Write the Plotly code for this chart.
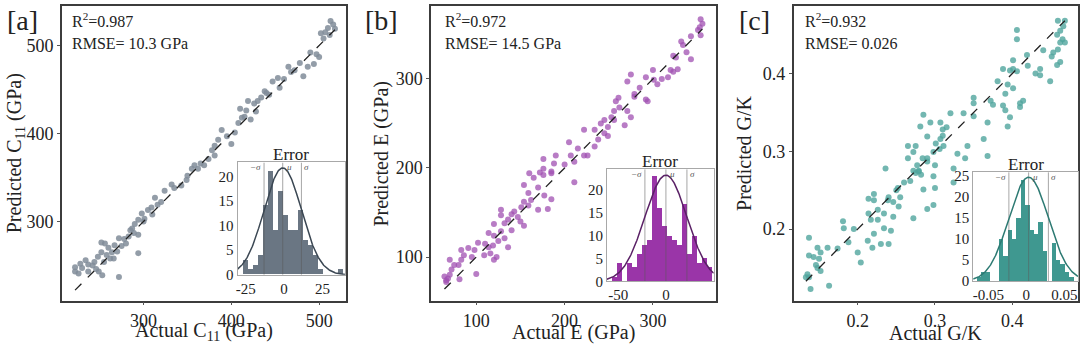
import numpy as np
import plotly.graph_objects as go

FONT = "Liberation Serif"
W, H = 1080, 356

# ---------------- data ----------------
# Panel a : C11 (GPa)
a_actual = [513, 516, 510, 518, 507, 512, 502, 505, 500, 497, 494, 487, 482, 472, 465, 468, 453, 455, 447, 438,
            443, 434, 430, 426, 419, 417, 415, 410, 422, 408, 404, 400, 389, 385, 381, 381, 378, 374, 369, 365,
            358, 355, 362, 343, 332, 324, 313, 316, 309, 305, 298, 301, 294, 290, 289, 287, 294, 283, 278, 272,
            275, 267, 260, 256, 252, 264, 266, 258, 252, 248, 244, 237, 234, 230, 222, 222, 226, 237, 249, 253,
            272, 294, 242, 246, 228, 255, 262, 270, 280, 285, 300, 310, 320, 335, 350, 395, 412, 428, 440, 460,
            478, 490, 349]
a_pred = [528, 524, 520, 519, 515, 512, 514, 508, 487, 490, 479, 476, 465, 472, 476, 470, 463, 452, 459, 448,
          444, 441, 437, 434, 437, 426, 419, 428, 416, 412, 401, 388, 404, 393, 386, 375, 381, 371, 364, 366,
          364, 360, 360, 341, 342, 335, 327, 319, 316, 313, 309, 303, 302, 297, 287, 292, 285, 283, 280, 281,
          272, 273, 270, 275, 276, 265, 258, 262, 265, 260, 254, 251, 256, 247, 248, 243, 241, 243, 243, 239,
          237, 264, 250, 246, 252, 254, 258, 266, 275, 290, 300, 308, 322, 338, 352, 397, 418, 425, 446, 462,
          480, 492, 347]

# Panel b : E (GPa)
b_actual = [354, 356, 353, 351, 354, 343, 332, 334, 323, 326, 343, 338, 328, 320, 323, 317, 301, 305, 292, 292,
            294, 275, 271, 279, 279, 271, 275, 268, 261, 258, 256, 253, 256, 249, 245, 241, 245, 249, 238, 234,
            222, 234, 226, 222, 207, 211, 205, 190, 188, 176, 176, 185, 160, 172, 176, 185, 165, 154, 170, 159,
            177, 185, 162, 154, 159, 170, 181, 151, 143, 147, 154, 136, 128, 132, 120, 128, 114, 120, 125, 119,
            114, 109, 116, 120, 123, 102, 98, 100, 91, 86, 83, 83, 80, 75, 72, 70, 64, 66, 68, 81,
            128, 132, 136, 140, 211, 66, 70, 200, 215, 262, 300, 310, 285, 140, 150, 95, 110]
b_pred = [367, 362, 358, 355, 349, 348, 342, 338, 326, 324, 322, 330, 311, 310, 308, 302, 299, 294, 302, 277,
          275, 305, 297, 283, 280, 264, 257, 248, 279, 275, 264, 257, 254, 246, 254, 250, 239, 236, 232, 243,
          243, 224, 214, 214, 214, 207, 229, 214, 205, 210, 199, 196, 194, 195, 192, 194, 189, 181, 178, 172,
          169, 165, 164, 162, 158, 153, 154, 156, 151, 145, 135, 142, 147, 138, 137, 129, 127, 124, 118, 113,
          111, 102, 104, 97, 100, 116, 108, 81, 110, 102, 108, 97, 91, 91, 86, 97, 78, 74, 76, 75,
          153, 121, 111, 148, 184, 72, 80, 204, 222, 268, 310, 300, 290, 130, 140, 100, 115]

# Panel c : G/K
c_actual = [0.459, 0.468, 0.466, 0.462, 0.458, 0.465, 0.462, 0.468, 0.459, 0.462, 0.453, 0.451, 0.449, 0.458,
            0.406, 0.406, 0.419, 0.436, 0.430, 0.436, 0.401, 0.397, 0.406, 0.401, 0.388, 0.381, 0.394, 0.401,
            0.391, 0.414, 0.410, 0.410, 0.388, 0.391, 0.394, 0.397, 0.372, 0.375, 0.350, 0.350, 0.337, 0.368,
            0.320, 0.307, 0.310, 0.315, 0.285, 0.294, 0.281, 0.290, 0.307, 0.311, 0.301, 0.306, 0.265, 0.275,
            0.272, 0.298, 0.290, 0.284, 0.265, 0.277, 0.290, 0.300, 0.342, 0.363, 0.368, 0.329, 0.339, 0.324,
            0.236, 0.272, 0.279, 0.275, 0.279, 0.268, 0.282, 0.298, 0.324, 0.285, 0.300, 0.252, 0.255, 0.240,
            0.239, 0.246, 0.253, 0.221, 0.214, 0.221, 0.226, 0.234, 0.214, 0.217, 0.226, 0.246, 0.272, 0.290,
            0.298, 0.181, 0.182, 0.195, 0.234, 0.243, 0.221, 0.213, 0.230, 0.240, 0.219, 0.200, 0.204, 0.188,
            0.174, 0.161, 0.148, 0.137, 0.152, 0.137, 0.143, 0.150, 0.146, 0.148, 0.135, 0.133, 0.137, 0.139,
            0.163, 0.152, 0.260, 0.250, 0.310, 0.350, 0.420, 0.440]
c_pred = [0.468, 0.468, 0.461, 0.455, 0.450, 0.444, 0.440, 0.440, 0.431, 0.415, 0.427, 0.422, 0.390, 0.411,
          0.456, 0.444, 0.424, 0.406, 0.400, 0.398, 0.406, 0.404, 0.403, 0.417, 0.406, 0.390, 0.386, 0.381,
          0.374, 0.365, 0.362, 0.357, 0.359, 0.353, 0.332, 0.344, 0.365, 0.360, 0.369, 0.362, 0.349, 0.337,
          0.349, 0.337, 0.328, 0.331, 0.347, 0.337, 0.332, 0.319, 0.316, 0.307, 0.310, 0.303, 0.307, 0.307,
          0.299, 0.299, 0.291, 0.291, 0.291, 0.282, 0.287, 0.282, 0.307, 0.316, 0.294, 0.297, 0.291, 0.278,
          0.278, 0.275, 0.275, 0.272, 0.274, 0.262, 0.270, 0.268, 0.260, 0.251, 0.253, 0.253, 0.241, 0.241,
          0.237, 0.235, 0.229, 0.245, 0.239, 0.237, 0.225, 0.220, 0.220, 0.212, 0.212, 0.216, 0.214, 0.226,
          0.231, 0.210, 0.201, 0.200, 0.201, 0.198, 0.194, 0.185, 0.181, 0.181, 0.176, 0.170, 0.157, 0.183,
          0.175, 0.176, 0.176, 0.189, 0.170, 0.166, 0.164, 0.162, 0.154, 0.150, 0.142, 0.138, 0.138, 0.123,
          0.127, 0.146, 0.260, 0.250, 0.320, 0.345, 0.410, 0.430]

# Error histograms (counts per bin), first bin edge and bin width
a_counts = [3, 1, 2, 4, 14, 21, 9, 17, 12, 9, 9, 13, 7, 6, 4, 1, 0, 0, 0, 1]
a_bin_start, a_bin_width = -27.2, 3.26
b_counts = [1, 4, 0, 4, 3, 6, 8, 9, 23, 16, 12, 10, 9, 8, 17, 6, 10, 4, 5, 3]
b_bin_start, b_bin_width = -56.3, 5.2
c_counts = [1, 2, 2, 0, 0, 10, 6, 12, 10, 15, 24, 18, 12, 11, 14, 7, 0, 9, 5, 4, 2, 1]
c_bin_start, c_bin_width = -0.0649, 0.00579

# Fitted normal curves: mean, std, peak height
a_mu, a_sigma, a_peak = -0.9, 12.2, 21.7
b_mu, b_sigma, b_peak = 0.0, 22.0, 23.3
c_mu, c_sigma, c_peak = 0.003, 0.026, 24.6

# text
panel_tags = ["[a]", "[b]", "[c]"]
r2_text = ["R<sup>2</sup>=0.987", "R<sup>2</sup>=0.972", "R<sup>2</sup>=0.932"]
rmse_text = ["RMSE= 10.3 GPa", "RMSE= 14.5 GPa", "RMSE= 0.026"]
x_titles = ["Actual C<sub>11</sub> (GPa)", "Actual E (GPa)", "Actual G/K"]
y_titles = ["Predicted C<sub>11</sub> (GPa)", "Predicted E (GPa)", "Predicted G/K"]

# ---------------- styling ----------------
scatter_colors = ["rgba(128,140,153,0.85)", "rgba(160,80,178,0.75)", "rgba(80,165,157,0.8)"]
hist_colors = ["#6a7683", "#9a35a8", "#3f9890"]
curve_colors = ["#3b4753", "#5a2166", "#2d7a73"]

main_px = [(60, 345), (430, 715), (793, 1078)]
main_py = (2, 307)
inset_px = [(236, 344), (606, 713), (973, 1078)]
inset_py = [(164, 280.3), (171, 287), (174, 286.7)]

main_xr = [[207, 531], [49, 371], [0.117, 0.485]]
main_yr = [[210, 545], [51, 382], [0.108, 0.487]]
inset_xr = [[-30.4, 40], [-61.8, 50], [-0.070, 0.068]]
inset_yr = [[0, 22.8], [0, 24.6], [0, 25.8]]

main_xt = [([300, 400, 500], ["300", "400", "500"]),
           ([100, 200, 300], ["100", "200", "300"]),
           ([0.2, 0.3, 0.4], ["0.2", "0.3", "0.4"])]
main_yt = main_xt[:2] + [([0.2, 0.3, 0.4], ["0.2", "0.3", "0.4"])]
inset_xt = [([-25, 0, 25], ["-25", "0", "25"]),
            ([-50, 0], ["-50", "0"]),
            ([-0.05, 0, 0.05], ["-0.05", "0", "0.05"])]
inset_yt = [[0, 5, 10, 15, 20], [0, 5, 10, 15, 20], [0, 5, 10, 15, 20, 25]]


def fx(p):
    return p / W


def fy(p):
    return 1 - p / H


fig = go.Figure()

actuals = [a_actual, b_actual, c_actual]
preds = [a_pred, b_pred, c_pred]
counts = [a_counts, b_counts, c_counts]
starts = [a_bin_start, b_bin_start, c_bin_start]
widths = [a_bin_width, b_bin_width, c_bin_width]
fits = [(a_mu, a_sigma, a_peak), (b_mu, b_sigma, b_peak), (c_mu, c_sigma, c_peak)]

layout = {}
annotations = []

main_ax = dict(showline=True, mirror=True, linecolor="#3c3c3c", linewidth=1.6,
               ticks="outside", ticklen=3, tickwidth=1, tickcolor="#555",
               showgrid=False, zeroline=False,
               tickfont=dict(family=FONT, size=18, color="#222"))
inset_ax = dict(showline=True, mirror=True, linecolor="#a8a8a8", linewidth=1,
                ticks="", showgrid=False, zeroline=False,
                tickfont=dict(family=FONT, size=15, color="#222"))

for i in range(3):
    n = i + 1
    xa, ya = ("x" if n == 1 else f"x{n}"), ("y" if n == 1 else f"y{n}")
    fig.add_trace(go.Scatter(x=actuals[i], y=preds[i], mode="markers", xaxis=xa, yaxis=ya,
                             marker=dict(size=6, color=scatter_colors[i], line=dict(width=0)),
                             showlegend=False))
    lo, hi = min(actuals[i]), max(actuals[i])
    fig.add_trace(go.Scatter(x=[lo, hi], y=[lo, hi], mode="lines", xaxis=xa, yaxis=ya,
                             line=dict(color="#222", width=1.3, dash="dash"), showlegend=False))
    layout[f"xaxis{'' if n == 1 else n}"] = dict(main_ax, domain=[fx(main_px[i][0]), fx(main_px[i][1])],
                                               anchor=ya, range=main_xr[i],
                                               tickvals=main_xt[i][0], ticktext=main_xt[i][1])
    layout[f"yaxis{'' if n == 1 else n}"] = dict(main_ax, domain=[fy(main_py[1]), fy(main_py[0])],
                                               anchor=xa, range=main_yr[i],
                                               tickvals=main_yt[i][0], ticktext=main_yt[i][1])

for i in range(3):
    n = i + 4
    xa, ya = f"x{n}", f"y{n}"
    c = np.array(counts[i], dtype=float)
    centers = starts[i] + widths[i] * (np.arange(len(c)) + 0.5)
    fig.add_trace(go.Bar(x=centers, y=c, width=widths[i], xaxis=xa, yaxis=ya,
                         marker=dict(color=hist_colors[i], line=dict(width=0)), showlegend=False))
    mu, sd, pk = fits[i]
    top = inset_yr[i][1]
    for v in (mu - sd, mu, mu + sd):
        fig.add_trace(go.Scatter(x=[v, v], y=[0, top], mode="lines", xaxis=xa, yaxis=ya,
                                 line=dict(color="rgba(90,90,90,0.6)", width=0.9), showlegend=False))
    xs = np.linspace(inset_xr[i][0], inset_xr[i][1], 200)
    ys = pk * np.exp(-0.5 * ((xs - mu) / sd) ** 2)
    fig.add_trace(go.Scatter(x=xs, y=ys, mode="lines", xaxis=xa, yaxis=ya,
                             line=dict(color=curve_colors[i], width=1.5), showlegend=False))
    layout[f"xaxis{n}"] = dict(inset_ax, domain=[fx(inset_px[i][0]), fx(inset_px[i][1])],
                               anchor=ya, range=inset_xr[i],
                               tickvals=inset_xt[i][0], ticktext=inset_xt[i][1])
    layout[f"yaxis{n}"] = dict(inset_ax, domain=[fy(inset_py[i][1]), fy(inset_py[i][0])],
                               anchor=xa, range=inset_yr[i], tickvals=inset_yt[i])
    for v, lab, anc in ((mu - sd, "−σ", "right"), (mu, "μ", "left"), (mu + sd, "σ", "left")):
        annotations.append(dict(x=v, xref=xa, y=fy(inset_py[i][0] + 5), yref="paper",
                                text=f"<i>{lab}</i>", showarrow=False, xanchor=anc, yanchor="middle",
                                xshift=(-1 if anc == "right" else 1),
                                font=dict(family=FONT, size=9, color="#555")))
    annotations.append(dict(x=fx((inset_px[i][0] + inset_px[i][1]) / 2), y=fy(inset_py[i][0] - 8),
                            xref="paper", yref="paper", text="Error", showarrow=False,
                            xanchor="center", yanchor="middle",
                            font=dict(family=FONT, size=17, color="#222")))

tag_x = [3, 362, 736]
txt_x = [68, 442, 802]
ytitle_x = [13, 380, 744]
for i in range(3):
    annotations.append(dict(x=fx(tag_x[i]), y=fy(17), xref="paper", yref="paper", text=panel_tags[i],
                            showarrow=False, xanchor="left", yanchor="middle",
                            font=dict(family=FONT, size=28, color="#222")))
    annotations.append(dict(x=fx(txt_x[i]), y=fy(17), xref="paper", yref="paper", text=r2_text[i],
                            showarrow=False, xanchor="left", yanchor="middle",
                            font=dict(family=FONT, size=16, color="#222")))
    annotations.append(dict(x=fx(txt_x[i]), y=fy(41), xref="paper", yref="paper", text=rmse_text[i],
                            showarrow=False, xanchor="left", yanchor="middle",
                            font=dict(family=FONT, size=16, color="#222")))
    annotations.append(dict(x=fx((main_px[i][0] + main_px[i][1]) / 2), y=fy(356), xref="paper",
                            yref="paper", text=x_titles[i], showarrow=False,
                            xanchor="center", yanchor="bottom", yshift=2,
                            font=dict(family=FONT, size=20, color="#222")))
    annotations.append(dict(x=fx(ytitle_x[i]), y=fy(154.5), xref="paper", yref="paper",
                            text=y_titles[i], showarrow=False, textangle=-90,
                            xanchor="center", yanchor="middle",
                            font=dict(family=FONT, size=20, color="#222")))

fig.update_layout(width=W, height=H, autosize=False,
                  margin=dict(l=0, r=0, t=0, b=0),
                  paper_bgcolor="white", plot_bgcolor="white",
                  font=dict(family=FONT, color="#222"),
                  bargap=0, annotations=annotations, **layout)

fig.write_html("out.html", config={"displayModeBar": False},
               post_script="document.body.style.margin='0px';document.body.style.overflow='hidden';")
